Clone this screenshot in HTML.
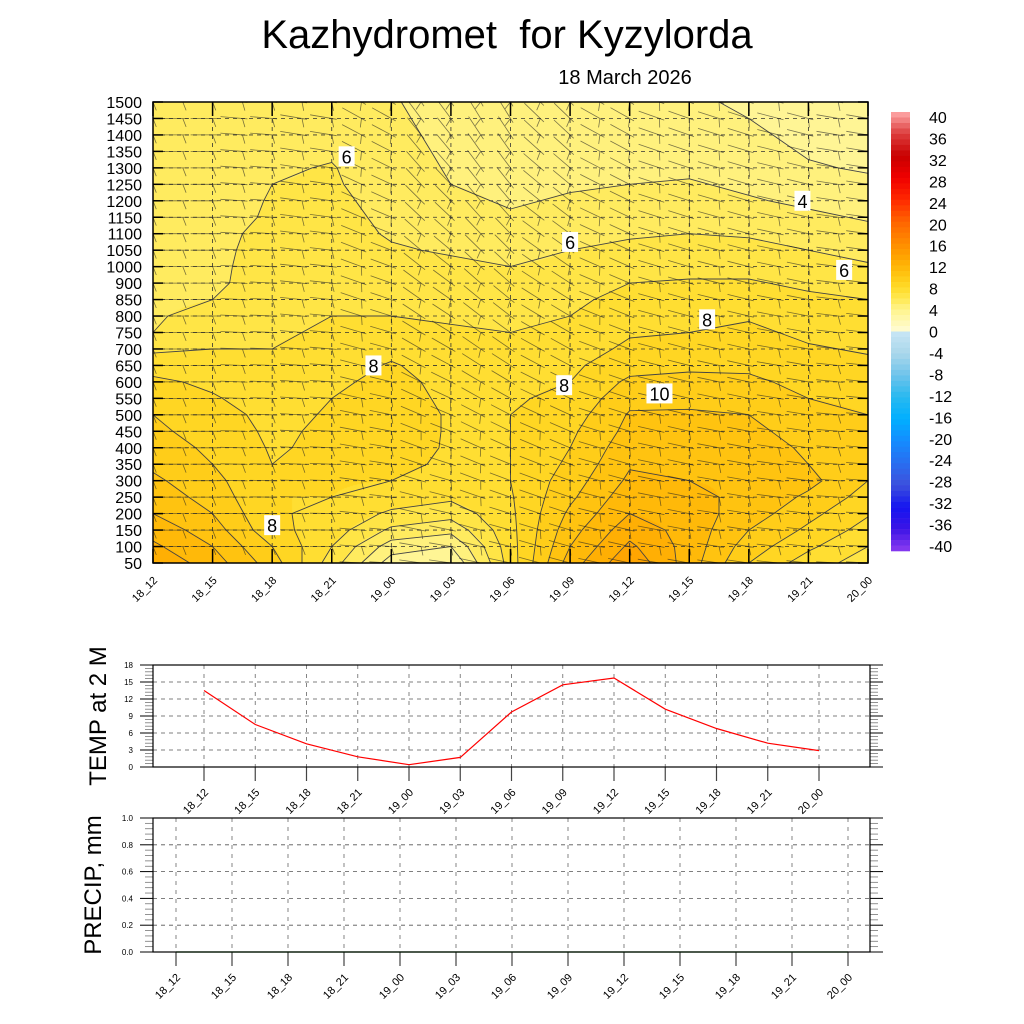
<!DOCTYPE html>
<html><head><meta charset="utf-8">
<style>
html,body{margin:0;padding:0;background:#fff;}
body{width:1024px;height:1024px;position:relative;overflow:hidden;font-family:"Liberation Sans",sans-serif;}
svg{position:absolute;left:0;top:0;}
canvas{position:absolute;left:153px;top:102px;}
</style></head>
<body>
<canvas id="fill" width="715" height="461"></canvas>
<svg id="chart" width="1024" height="1024" viewBox="0 0 1024 1024">
<defs><clipPath id="plotclip"><rect x="153" y="102" width="715" height="461"/></clipPath></defs>
<text x="507" y="48" font-size="40" text-anchor="middle" xml:space="preserve" style="white-space:pre">Kazhydromet  for Kyzylorda</text>
<text x="625" y="84" font-size="20" text-anchor="middle">18 March 2026</text>
<g id="main"></g>
<g id="cbar"></g>
<g id="temp"></g>
<g id="precip"></g>
</svg>
<script>
const times = ["18_12","18_15","18_18","18_21","19_00","19_03","19_06","19_09","19_12","19_15","19_18","19_21","20_00"];
const levels = [50,100,150,200,250,300,350,400,450,500,550,600,650,700,750,800,850,900,1000,1050,1100,1150,1200,1250,1300,1350,1400,1450,1500];
const tempGrid = [
[12.8,12.2,11.6,11.0,10.6,10.2,9.8,9.5,9.2,9.0,8.6,8.2,7.6,6.8,6.0,5.9,5.8,5.7,5.6,5.6,5.5,5.5,5.4,5.4,5.3,5.3,5.3,5.2,5.2],
[11.5,11.0,10.5,10.0,9.6,9.3,9.0,8.8,8.6,8.4,8.1,7.8,7.4,7.0,6.6,6.3,6.0,5.8,5.8,5.8,5.8,5.7,5.7,5.6,5.6,5.5,5.5,5.4,5.4],
[9.5,9.0,8.3,8.1,8.0,8.0,8.0,7.9,7.8,7.7,7.5,7.3,7.1,7.0,6.9,6.8,6.6,6.5,6.4,6.3,6.2,6.1,6.05,6.0,5.9,5.8,5.7,5.6,5.6],
[6.5,7.0,7.5,7.8,8.0,8.1,8.2,8.2,8.2,8.1,8.0,7.8,7.5,7.3,7.1,7.0,6.9,6.7,6.6,6.5,6.4,6.3,6.2,6.1,6.05,5.9,5.8,5.7,5.6],
[3.5,4.5,5.8,6.8,7.6,8.0,8.3,8.4,8.5,8.5,8.4,8.3,8.1,7.7,7.3,7.0,6.8,6.6,6.3,6.1,5.9,5.8,5.7,5.6,5.5,5.4,5.3,5.2,5.1],
[3.0,4.0,5.3,6.4,7.2,7.6,7.8,7.9,7.9,7.9,7.8,7.7,7.5,7.3,7.1,6.9,6.7,6.5,6.2,5.9,5.6,5.4,5.2,5.0,4.9,4.8,4.7,4.6,4.5],
[7.5,7.6,7.7,7.8,7.9,8.0,8.0,8.0,8.0,8.0,7.9,7.8,7.5,7.2,7.0,6.8,6.6,6.4,6.0,5.7,5.4,5.1,4.9,4.8,4.7,4.6,4.5,4.4,4.3],
[11.5,11.0,10.6,10.2,9.8,9.5,9.2,9.0,8.8,8.5,8.2,8.0,7.8,7.5,7.2,7.0,6.8,6.5,6.2,6.0,5.7,5.4,5.1,4.9,4.8,4.7,4.6,4.5,4.4],
[13.8,13.2,12.6,12.0,11.6,11.2,10.9,10.6,10.3,10.1,9.7,9.2,8.6,8.2,7.9,7.6,7.3,7.0,6.6,6.2,5.9,5.6,5.3,5.0,4.8,4.6,4.4,4.3,4.2],
[11.5,11.6,11.6,11.5,11.2,11.0,10.8,10.6,10.4,10.1,9.8,9.3,8.8,8.4,8.0,7.7,7.4,7.1,6.7,6.3,6.0,5.7,5.4,5.1,4.8,4.6,4.4,4.2,4.1],
[9.0,9.5,10.0,10.5,10.8,10.9,10.8,10.6,10.3,10.0,9.6,9.2,8.8,8.5,8.2,7.9,7.5,7.1,6.7,6.3,5.9,5.5,5.1,4.8,4.6,4.4,4.2,4.0,3.9],
[7.5,8.2,8.8,9.3,9.8,10.3,10.0,9.8,9.5,9.3,9.0,8.7,8.4,8.1,7.8,7.5,7.2,6.8,6.4,6.0,5.6,5.2,4.8,4.4,4.1,3.9,3.7,3.6,3.5],
[6.5,7.0,7.6,8.1,8.6,9.0,9.2,9.3,9.2,9.0,8.8,8.5,8.2,7.9,7.6,7.3,7.0,6.6,6.1,5.7,5.3,4.9,4.5,4.2,3.9,3.7,3.5,3.4,3.3]
];
const windAngleLow = [0,0,0,0,3,8,12,15,12,10,8,6,3];
const windAngleHigh = [0,0,5,10,30,55,60,45,30,20,18,15,10];
const contourLabels = [["6",3.25,24.7],["6",7.0,19.5],["4",10.9,22.0],["6",11.6,17.8],["8",9.3,14.8],["8",3.7,12.0],["8",6.9,10.8],["10",8.5,10.3],["8",2.0,2.3]];
const temp2m = [13.5,7.5,4.1,1.8,0.4,1.7,9.7,14.5,15.7,10.2,6.8,4.2,2.9];
const tempTicks = [0,3,6,9,12,15,18];
const precip = [0,0,0,0,0,0,0,0,0,0,0,0,0];
const precipTicks = [0,0.2,0.4,0.6,0.8,1.0];
const cbarLabels = [40,36,32,28,24,20,16,12,8,4,0,-4,-8,-12,-16,-20,-24,-28,-32,-36,-40];

const NS="http://www.w3.org/2000/svg";
function mk(parent,tag,attrs,text){const e=document.createElementNS(NS,tag);for(const k in attrs)e.setAttribute(k,attrs[k]);if(text!==undefined)e.textContent=text;parent.appendChild(e);return e;}

const cstops=[[-40,[140,60,240]],[-36,[60,20,230]],[-32,[20,20,240]],[-28,[60,80,220]],[-24,[40,110,240]],[-20,[20,140,255]],[-16,[0,175,255]],[-12,[40,185,240]],[-8,[110,195,235]],[-4,[170,215,235]],[-0.01,[200,230,245]],[0,[255,252,215]],[4,[255,244,140]],[6,[255,232,80]],[8,[255,218,40]],[10,[255,200,20]],[12,[255,180,5]],[14,[255,160,0]],[16,[255,140,0]],[20,[255,100,0]],[24,[255,40,0]],[28,[240,0,0]],[32,[200,0,0]],[36,[220,60,60]],[40,[255,170,170]]];
function cmap(v){if(v<=cstops[0][0])return cstops[0][1];for(let i=1;i<cstops.length;i++){if(v<=cstops[i][0]){const a=cstops[i-1],b=cstops[i];const t=(v-a[0])/(b[0]-a[0]);return a[1].map((c,j)=>Math.round(c+(b[1][j]-c)*t));}}return cstops[cstops.length-1][1];}

const X0=153,X1=868,Y0=563,Y1=102;
const nC=times.length,nR=levels.length;
const xs=c=>X0+c*(X1-X0)/(nC-1);
const ys=r=>Y0-r*(Y0-Y1)/(nR-1);
function T(c,r){const c0=Math.min(Math.floor(c),nC-2),r0=Math.min(Math.floor(r),nR-2);const fc=c-c0,fr=r-r0;
 return tempGrid[c0][r0]*(1-fc)*(1-fr)+tempGrid[c0+1][r0]*fc*(1-fr)+tempGrid[c0][r0+1]*(1-fc)*fr+tempGrid[c0+1][r0+1]*fc*fr;}
const cv=document.getElementById('fill'),ctx=cv.getContext('2d');
const img=ctx.createImageData(cv.width,cv.height);
for(let py=0;py<cv.height;py++){for(let px=0;px<cv.width;px++){
 const c=px/(cv.width-1)*(nC-1),r=(cv.height-1-py)/(cv.height-1)*(nR-1);
 const v=Math.floor(T(c,r))+0.5;const col=cmap(v);const i=(py*cv.width+px)*4;
 img.data[i]=col[0];img.data[i+1]=col[1];img.data[i+2]=col[2];img.data[i+3]=255;}}
ctx.putImageData(img,0,0);

const main=document.getElementById('main');
for(let r=1;r<nR-1;r++){const l=mk(main,'line',{x1:X0,x2:X1,y1:ys(r),y2:ys(r),stroke:'#333','stroke-width':0.8,'stroke-dasharray':'4,4'});}
for(let c=1;c<nC-1;c++){const l=mk(main,'line',{x1:xs(c),x2:xs(c),y1:Y0,y2:Y1,stroke:'#333','stroke-width':0.8,'stroke-dasharray':'4,4'});}
const cg=mk(main,'g',{stroke:'#444','stroke-width':0.9,fill:'none'});

let d='';
for(let lv=1;lv<=16;lv++){
 for(let c=0;c<nC-1;c++)for(let r=0;r<nR-1;r++){
  const p=[[c,r],[c+1,r],[c+1,r+1],[c,r+1]];const v=p.map(q=>tempGrid[q[0]][q[1]]);
  const pts=[];
  for(let k=0;k<4;k++){const a=v[k],b=v[(k+1)%4];if((a<lv)!==(b<lv)){const t=(lv-a)/(b-a);const pa=p[k],pb=p[(k+1)%4];pts.push([xs(pa[0]+(pb[0]-pa[0])*t),ys(pa[1]+(pb[1]-pa[1])*t)]);}}
  if(pts.length===2)d+=`M${pts[0][0].toFixed(1)},${pts[0][1].toFixed(1)}L${pts[1][0].toFixed(1)},${pts[1][1].toFixed(1)}`;
  else if(pts.length===4)d+=`M${pts[0][0].toFixed(1)},${pts[0][1].toFixed(1)}L${pts[1][0].toFixed(1)},${pts[1][1].toFixed(1)}M${pts[2][0].toFixed(1)},${pts[2][1].toFixed(1)}L${pts[3][0].toFixed(1)},${pts[3][1].toFixed(1)}`;
 }}
mk(cg,'path',{d:d});
const bg=mk(main,'g',{stroke:'#222','stroke-width':0.8,fill:'none','clip-path':'url(#plotclip)'});

let bd='';
for(let k=0;k<=24;k++){const c=k/2;const ci=Math.min(Math.round(c),nC-1);
 for(let r=0;r<nR;r++){const f=r/(nR-1);const ang=(windAngleLow[ci]*(1-f)+windAngleHigh[ci]*f)*Math.PI/180;
  const x=xs(c),y=ys(r);const L=22;
  const ex=x-L*Math.cos(ang),ey=y-L*Math.sin(ang);
  const sx=x+5*Math.cos(ang),sy=y+5*Math.sin(ang);
  bd+=`M${ex.toFixed(1)},${ey.toFixed(1)}L${sx.toFixed(1)},${sy.toFixed(1)}`;
  const bx=sx-5*Math.cos(ang),by=sy-5*Math.sin(ang);
  const tx=bx+9*Math.cos(ang+1.2),ty=by+9*Math.sin(ang+1.2);
  bd+=`M${bx.toFixed(1)},${by.toFixed(1)}L${tx.toFixed(1)},${ty.toFixed(1)}`;}}
mk(bg,'path',{d:bd,'stroke-opacity':0.6});
contourLabels.forEach(l=>{const x=xs(l[1]),y=ys(l[2]);
 const g=mk(main,'g',{});
 const w=l[0].length*10+6;mk(g,'rect',{x:x-w/2,y:y-10,width:w,height:20,fill:'#fff'});
 mk(g,'text',{x:x,y:y+7,'font-size':18,'text-anchor':'middle'},l[0]);});
mk(main,'rect',{x:X0,y:Y1,width:X1-X0,height:Y0-Y1,fill:'none',stroke:'#000','stroke-width':1.5});
for(let r=0;r<nR;r++){mk(main,'line',{x1:X0,x2:X0+10,y1:ys(r),y2:ys(r),stroke:'#000','stroke-width':1.5});mk(main,'line',{x1:X1-10,x2:X1,y1:ys(r),y2:ys(r),stroke:'#000','stroke-width':1.5});
 const t=mk(main,'text',{x:142,y:ys(r)+6,'font-size':16,'text-anchor':'end'},levels[r]);}
for(let c=0;c<nC;c++){mk(main,'line',{x1:xs(c),x2:xs(c),y1:Y0,y2:Y0-14,stroke:'#000','stroke-width':1.5});mk(main,'line',{x1:xs(c),x2:xs(c),y1:Y1,y2:Y1+14,stroke:'#000','stroke-width':1.5});
 const t=mk(main,'text',{x:xs(c)+5,y:Y0+18,'font-size':11,'text-anchor':'end',transform:`rotate(-45 ${xs(c)+5} ${Y0+18})`},times[c]);}

const cb=document.getElementById('cbar');
const CB0=112,CB1=551;const nb=80;const bh=(CB1-CB0)/nb;
for(let i=0;i<nb;i++){const v=40-i-0.5;const col=cmap(v);
 const b=mk(cb,'rect',{x:891,y:CB0+i*bh,width:19,height:bh+0.3,fill:`rgb(${col.join(',')})`});}
cbarLabels.forEach((v,i)=>{const y=117+i*(546-117)/(cbarLabels.length-1);const t=mk(cb,'text',{x:929,y:y+6,'font-size':16},v);});

function panel(gid,top,bot,ticks,tx0,tstep,fmt,ylabel,ylx,vals,color){
 const g=document.getElementById(gid);const L=153,R=870;
 const ymin=ticks[0],ymax=ticks[ticks.length-1];const ysc=v=>bot-(v-ymin)/(ymax-ymin)*(bot-top);
 const xsc=i=>tx0+i*tstep;
 ticks.forEach((v,i)=>{if(i>0&&i<ticks.length-1){const l=mk(g,'line',{x1:L,x2:R,y1:ysc(v),y2:ysc(v),stroke:'#555','stroke-width':0.8,'stroke-dasharray':'4,4'});}
  mk(g,'line',{x1:L-13,x2:L,y1:ysc(v),y2:ysc(v),stroke:'#000','stroke-width':1});mk(g,'line',{x1:R,x2:R+13,y1:ysc(v),y2:ysc(v),stroke:'#000','stroke-width':1});
  const t=mk(g,'text',{x:L-20,y:ysc(v)+3,'font-size':8,'text-anchor':'end'},fmt(v));});
 for(let i=0;i<ticks.length-1;i++)for(let k=1;k<5;k++){const y=ysc(ticks[i])+(ysc(ticks[i+1])-ysc(ticks[i]))*k/5;mk(g,'line',{x1:L-8,x2:L,y1:y,y2:y,stroke:'#777','stroke-width':0.8});mk(g,'line',{x1:R,x2:R+8,y1:y,y2:y,stroke:'#777','stroke-width':0.8});}
 times.forEach((tm,i)=>{const x=xsc(i);const l=mk(g,'line',{x1:x,x2:x,y1:top,y2:bot,stroke:'#777','stroke-width':0.9,'stroke-dasharray':'4,5'});
  mk(g,'line',{x1:x,x2:x,y1:bot,y2:bot+14,stroke:'#444','stroke-width':1.2});
  const t=mk(g,'text',{x:x+5,y:bot+26,'font-size':11,'text-anchor':'end',transform:`rotate(-45 ${x+5} ${bot+26})`},tm);});
 const pts=vals.map((v,i)=>`${xsc(i).toFixed(1)},${ysc(v).toFixed(1)}`).join(' ');
 const pl=mk(g,'polyline',{points:pts,fill:'none',stroke:color,'stroke-width':1.2});
 mk(g,'rect',{x:L,y:top,width:R-L,height:bot-top,fill:'none',stroke:'#000','stroke-width':1.2});
 const yl=mk(g,'text',{x:ylx,y:(top+bot)/2,'font-size':24,'text-anchor':'middle',transform:`rotate(-90 ${ylx} ${(top+bot)/2})`},ylabel);
}
panel('temp',665,767,tempTicks,204,51.25,v=>v,'TEMP at 2 M',106,temp2m,'#ff0000');
panel('precip',818,952,precipTicks,176,56,v=>v.toFixed(1),'PRECIP, mm',101,precip,'#008000');
</script>
</body></html>
